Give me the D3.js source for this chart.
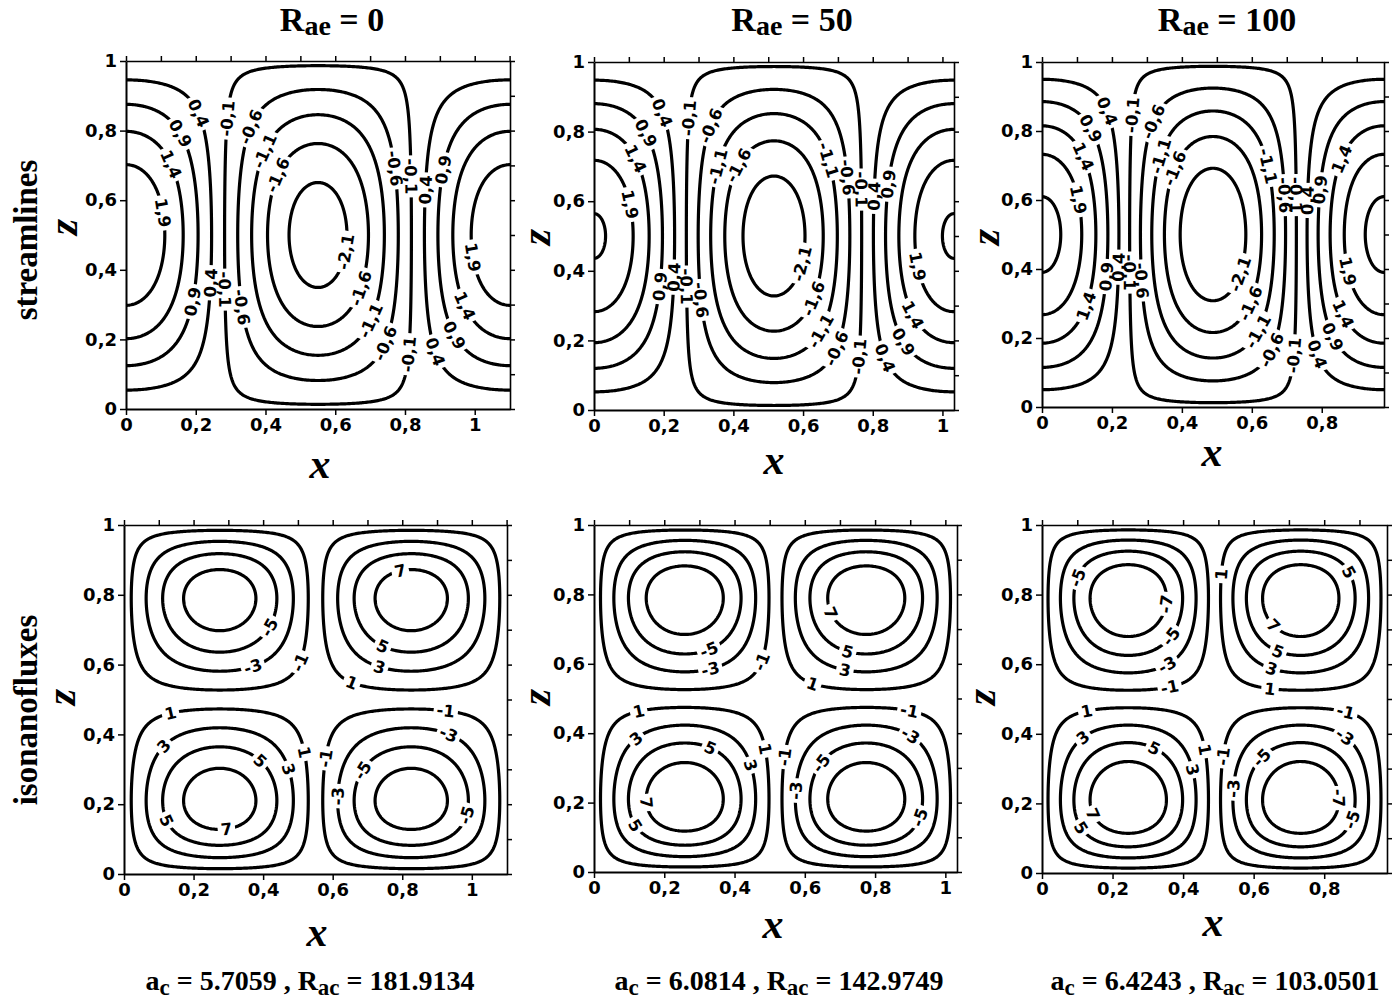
<!DOCTYPE html>
<html>
<head>
<meta charset="utf-8">
<script src="https://cdn.jsdelivr.net/npm/d3@7"></script>
<style>
  body { margin: 0; background: #fff; }
  .serif { font-family: "Liberation Serif", "Times New Roman", serif; font-weight: bold; white-space: pre; }
  .clabel { font-family: "DejaVu Sans", sans-serif; font-weight: bold; font-size: 16.5px; }
  .axis text { font-family: "DejaVu Sans", sans-serif; font-weight: bold; font-size: 18px; fill: #000; }
  .axis path.domain { stroke: #000; stroke-width: 2; }
  .axis line { stroke: #000; stroke-width: 1.5; }
  .thin path.domain { stroke-width: 1.6; }
</style>
</head>
<body>
<svg width="1400" height="999"></svg>
<script>
const W = 1400, H = 999;
const svg = d3.select("svg");
const defs = svg.append("defs");

// ---- values ----
const raeValues = [0, 50, 100];
const acValues = [5.7059, 6.0814, 6.4243];
const racValues = [181.9134, 142.9749, 103.0501];
const streamLevels = [-2.1, -1.6, -1.1, -0.6, -0.1, 0.4, 0.9, 1.4, 1.9, 2.4];
const fluxLevels = [-7, -5, -3, -1, 1, 3, 5, 7];
// mode amplitudes estimated from the size of the closed contours
const streamAmp = [2.36, 2.45, 2.55];
const fluxAmp = [8.15, 8.6, 8.8];
const fluxSkew = [0.14, 0.14, 0.14];
const xMajor = [0, 0.2, 0.4, 0.6, 0.8, 1];
const xMinor = [0, 0.1, 0.2, 0.3, 0.4, 0.5, 0.6, 0.7, 0.8, 0.9, 1, 1.1];
const zMajor = [0, 0.2, 0.4, 0.6, 0.8, 1];
const zMinor = [0, 0.1, 0.2, 0.3, 0.4, 0.5, 0.6, 0.7, 0.8, 0.9, 1];

// contour label spots [x, z, level]
const streamLabels = [
  [[0.193,0.845,0.4],[0.289,0.835,-0.1],[0.366,0.807,-0.6],[0.141,0.782,0.9],[0.409,0.735,-1.1],
   [0.115,0.696,1.4],[0.443,0.668,-1.6],[0.088,0.562,1.9],[0.759,0.692,-0.6],[0.816,0.668,-0.1],
   [0.85,0.629,0.4],[0.907,0.687,0.9],[0.624,0.452,-2.1],[0.998,0.438,1.9],[0.241,0.361,0.4],
   [0.28,0.342,-0.1],[0.333,0.294,-0.6],[0.189,0.308,0.9],[0.663,0.351,-1.6],[0.701,0.256,-1.1],
   [0.735,0.193,-0.6],[0.802,0.16,-0.1],[0.888,0.165,0.4],[0.941,0.213,0.9],[0.974,0.299,1.4]],
  [[0.18,0.848,0.4],[0.276,0.838,-0.1],[0.353,0.809,-0.6],[0.132,0.785,0.9],[0.103,0.713,1.4],
   [0.362,0.699,-1.1],[0.42,0.699,-1.6],[0.089,0.589,1.9],[0.659,0.713,-1.1],[0.721,0.666,-0.6],
   [0.764,0.632,-0.1],[0.803,0.613,0.4],[0.851,0.647,0.9],[0.592,0.421,-2.1],[0.927,0.412,1.9],
   [0.228,0.383,0.4],[0.185,0.354,0.9],[0.266,0.354,-0.1],[0.305,0.316,-0.6],[0.625,0.321,-1.6],
   [0.649,0.23,-1.1],[0.693,0.177,-0.6],[0.76,0.153,-0.1],[0.836,0.148,0.4],[0.884,0.196,0.9],
   [0.918,0.273,1.4]],
  [[0.171,0.851,0.4],[0.257,0.846,-0.1],[0.329,0.822,-0.6],[0.124,0.798,0.9],[0.095,0.716,1.4],
   [0.343,0.726,-1.1],[0.39,0.687,-1.6],[0.095,0.6,1.9],[0.643,0.697,-1.1],[0.686,0.614,-0.6],
   [0.714,0.614,-0.1],[0.757,0.6,0.4],[0.786,0.629,0.9],[0.862,0.716,1.4],[0.562,0.388,-2.1],
   [0.876,0.392,1.9],[0.176,0.378,0.9],[0.209,0.407,0.4],[0.243,0.388,-0.1],[0.281,0.368,-0.6],
   [0.119,0.296,1.4],[0.59,0.305,-1.6],[0.619,0.218,-1.1],[0.647,0.17,-0.6],[0.714,0.151,-0.1],
   [0.786,0.151,0.4],[0.833,0.204,0.9],[0.867,0.272,1.4]]
];
const fluxLabels = [
  [[0.408,0.714,-5],[0.374,0.585,-3],[0.504,0.605,-1],[0.793,0.872,7],[0.74,0.643,5],
   [0.73,0.58,3],[0.653,0.542,1],[0.133,0.461,1],[0.923,0.456,-1],[0.114,0.366,3],
   [0.933,0.394,-3],[0.383,0.318,5],[0.465,0.299,3],[0.509,0.347,1],[0.576,0.332,-1],
   [0.692,0.294,-5],[0.615,0.222,-3],[0.114,0.151,5],[0.297,0.117,7],[0.976,0.17,-5]],
  [[0.328,0.637,-5],[0.332,0.582,-3],[0.476,0.606,-1],[0.682,0.75,7],[0.72,0.635,5],
   [0.711,0.577,3],[0.62,0.539,1],[0.126,0.462,1],[0.898,0.462,-1],[0.122,0.38,3],
   [0.332,0.356,5],[0.898,0.389,-3],[0.486,0.356,1],[0.543,0.332,-1],[0.443,0.308,3],
   [0.649,0.313,-5],[0.582,0.236,-3],[0.155,0.202,7],[0.112,0.13,5],[0.922,0.159,-5]],
  [[0.106,0.847,-5],[0.348,0.775,-7],[0.367,0.679,-5],[0.357,0.597,-3],[0.362,0.53,-1],
   [0.517,0.856,1],[0.884,0.871,5],[0.667,0.722,7],[0.671,0.64,5],[0.652,0.588,3],
   [0.647,0.53,1],[0.126,0.463,1],[0.86,0.463,-1],[0.116,0.387,3],[0.319,0.362,5],
   [0.86,0.396,-3],[0.468,0.358,1],[0.526,0.334,-1],[0.425,0.295,3],[0.633,0.319,-5],
   [0.56,0.243,-3],[0.85,0.214,-7],[0.894,0.147,-5],[0.15,0.171,7],[0.106,0.128,5]]
];

// ---- layout ----
const frames = [
  {l: 126, r: 510, t: 61, b: 409}, {l: 594, r: 954, t: 62, b: 410}, {l: 1042, r: 1384, t: 62, b: 407},
  {l: 124, r: 507, t: 525, b: 874}, {l: 594, r: 957, t: 525, b: 872}, {l: 1042, r: 1387, t: 525, b: 873}
];
const titleX = [332, 792, 1227];
const footX = [310, 779, 1215];
const xLabelPos = [[320, 478], [774, 474], [1212, 466], [317, 946], [773, 938], [1213, 936]];
const zLabelPos = [[68, 227], [541, 237], [990, 237], [66, 697], [541, 697], [986, 697]];

const fmtNum = v => String(v).replace(".", ",");

function streamField(k) {
  const a = acValues[k], A = streamAmp[k];
  return (x, z) => A * Math.sin(Math.PI * z) * Math.cos(a * x);
}
function fluxField(k) {
  const a = acValues[k], K = fluxAmp[k], c = fluxSkew[k];
  return (x, z) => K * Math.sin(a * x) * (Math.sin(2 * Math.PI * z) + c * Math.sin(4 * Math.PI * z));
}

const line = d3.line();

function drawPanel(id, f, xmax, field, levels, labels) {
  const x = d3.scaleLinear().domain([0, xmax]).range([f.l, f.r]);
  const z = d3.scaleLinear().domain([0, 1]).range([f.b, f.t]);
  const g = svg.append("g");

  defs.append("clipPath").attr("id", "clip" + id)
    .append("rect").attr("x", f.l).attr("y", f.t).attr("width", f.r - f.l).attr("height", f.b - f.t);

  // sample a bit past the frame so the grid border is clipped away
  const nx = 280, nz = 280, x0 = -0.04, x1 = xmax + 0.04, z0 = -0.04, z1 = 1.04;
  const sx = (x1 - x0) / (nx - 1), sz = (z1 - z0) / (nz - 1);
  const values = new Float64Array(nx * nz);
  for (let j = 0; j < nz; j++)
    for (let i = 0; i < nx; i++) values[j * nx + i] = field(x0 + i * sx, z0 + j * sz);

  const contours = d3.contours().size([nx, nz]).thresholds(levels)(values);
  const rings = levels.map(v => {
    const c = contours.find(c => Math.abs(c.value - v) < 1e-9);
    return c ? c.coordinates.flat().map(r => r.map(p => [x(x0 + (p[0] - 0.5) * sx), z(z0 + (p[1] - 0.5) * sz)])) : [];
  });

  const gl = g.append("g").attr("clip-path", `url(#clip${id})`);
  const gt = g.append("g");
  const holes = levels.map(() => []);

  labels.forEach(([lx, lz, v]) => {
    const li = levels.findIndex(L => Math.abs(L - v) < 1e-9);
    const tx = x(lx), ty = z(lz);
    let best = null, bd = Infinity;
    rings[li].forEach(r => r.forEach((p, k) => {
      if (p[0] < f.l + 2 || p[0] > f.r - 2 || p[1] < f.t + 2 || p[1] > f.b - 2) return;
      const d = (p[0] - tx) ** 2 + (p[1] - ty) ** 2;
      if (d < bd) { bd = d; best = [r, k]; }
    }));
    if (!best) return;
    const [r, k] = best, n = r.length - 1;
    const p = r[k], pa = r[(k - 4 + n) % n], pb = r[(k + 4) % n];
    let ang = Math.atan2(pb[1] - pa[1], pb[0] - pa[0]) * 180 / Math.PI;
    if (ang > 90) ang -= 180;
    if (ang <= -90) ang += 180;
    const tr = `translate(${p[0].toFixed(2)},${p[1].toFixed(2)}) rotate(${ang.toFixed(1)})`;
    const t = gt.append("text").attr("class", "clabel").attr("transform", tr)
      .attr("text-anchor", "middle").attr("dy", "0.36em").text(fmtNum(v));
    holes[li].push({tr, w: t.node().getComputedTextLength()});
  });

  levels.forEach((v, li) => {
    if (!rings[li].length) return;
    const mid = `m${id}_${li}`;
    const m = defs.append("mask").attr("id", mid).attr("maskUnits", "userSpaceOnUse")
      .attr("x", 0).attr("y", 0).attr("width", W).attr("height", H);
    m.append("rect").attr("width", W).attr("height", H).attr("fill", "#fff");
    holes[li].forEach(h => m.append("rect").attr("transform", h.tr)
      .attr("x", -h.w / 2 - 3).attr("y", -8).attr("width", h.w + 6).attr("height", 16).attr("fill", "#000"));
    gl.append("path")
      .attr("d", rings[li].map(r => line(r)).join(""))
      .attr("mask", `url(#${mid})`)
      .attr("fill", "none").attr("stroke", "#000").attr("stroke-width", 3.2)
      .attr("stroke-linejoin", "round");
  });

  // axes
  g.append("g").attr("class", "axis").attr("transform", `translate(0,${f.b})`)
    .call(d3.axisBottom(x).tickValues(xMajor.filter(t => t <= xmax + 1e-6))
      .tickSize(6).tickPadding(3).tickSizeOuter(0).tickFormat(fmtNum));
  g.append("g").attr("class", "axis").attr("transform", `translate(${f.l},0)`)
    .call(d3.axisLeft(z).tickValues(zMajor).tickSize(6).tickPadding(3).tickSizeOuter(0).tickFormat(fmtNum));
  g.append("g").attr("class", "axis thin").attr("transform", `translate(0,${f.t})`)
    .call(d3.axisTop(x).tickValues(xMinor.filter(t => t <= xmax + 1e-6)).tickSize(5).tickSizeOuter(0).tickFormat(""));
  g.append("g").attr("class", "axis thin").attr("transform", `translate(${f.r},0)`)
    .call(d3.axisRight(z).tickValues(zMinor).tickSize(5).tickSizeOuter(0).tickFormat(""));
  g.selectAll(".axis").attr("font-family", null).attr("font-size", null);

  const [xlx, xly] = xLabelPos[id], [zlx, zly] = zLabelPos[id];
  svg.append("text").attr("class", "serif").attr("x", xlx).attr("y", xly)
    .attr("text-anchor", "middle").attr("font-size", 42).attr("font-style", "italic").text("x");
  svg.append("text").attr("class", "serif").attr("transform", `translate(${zlx},${zly}) rotate(-90)`)
    .attr("text-anchor", "middle").attr("dy", "0.22em").attr("font-size", 42).attr("font-style", "italic").text("z");
}

acValues.forEach((a, k) => {
  const xmax = 2 * Math.PI / a;
  drawPanel(k, frames[k], xmax, streamField(k), streamLevels, streamLabels[k]);
  drawPanel(k + 3, frames[k + 3], xmax, fluxField(k), fluxLevels, fluxLabels[k]);
});

// column titles
raeValues.forEach((v, k) => {
  const t = svg.append("text").attr("class", "serif").attr("x", titleX[k]).attr("y", 31)
    .attr("text-anchor", "middle").attr("font-size", 34);
  t.append("tspan").text("R");
  t.append("tspan").attr("font-size", 28).attr("dy", 4).text("ae");
  t.append("tspan").attr("dy", -4).text(" = " + v);
});

// critical values under each column
acValues.forEach((a, k) => {
  const t = svg.append("text").attr("class", "serif").attr("x", footX[k]).attr("y", 990)
    .attr("text-anchor", "middle").attr("font-size", 28);
  t.append("tspan").text("a");
  t.append("tspan").attr("font-size", 23).attr("dy", 5).text("c");
  t.append("tspan").attr("dy", -5).text(` = ${a.toFixed(4)} , R`);
  t.append("tspan").attr("font-size", 23).attr("dy", 5).text("ac");
  t.append("tspan").attr("dy", -5).text(` = ${racValues[k].toFixed(4)}`);
});

// row titles
[["streamlines", 240], ["isonanofluxes", 710]].forEach(([s, y]) => {
  svg.append("text").attr("class", "serif").attr("transform", `translate(27,${y}) rotate(-90)`)
    .attr("text-anchor", "middle").attr("dy", "0.3em").attr("font-size", 33).text(s);
});
</script>
</body>
</html>
